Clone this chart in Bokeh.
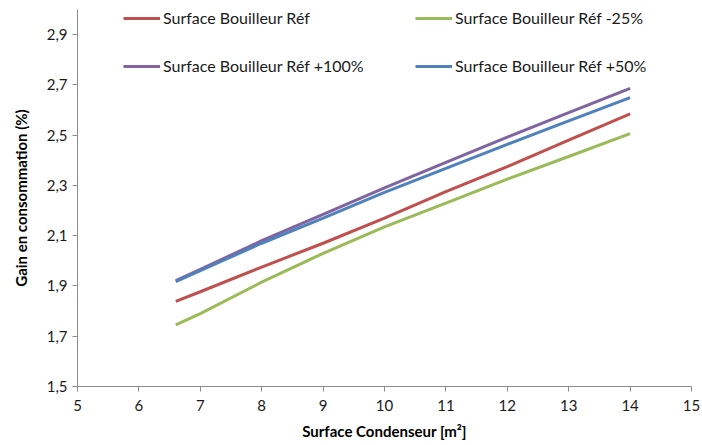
from bokeh.plotting import figure
from bokeh.models import Legend, LegendItem, FixedTicker, Range1d
from bokeh.embed import file_html
from bokeh.resources import INLINE

# Data
x_vals = [6.6, 7, 8, 9, 10, 11, 12, 13, 14]
ref = [1.839, 1.877, 1.975, 2.070, 2.170, 2.275, 2.375, 2.480, 2.585]
minus25 = [1.745, 1.790, 1.915, 2.030, 2.135, 2.230, 2.325, 2.415, 2.506]
plus100 = [1.921, 1.966, 2.080, 2.185, 2.290, 2.392, 2.492, 2.590, 2.686]
plus50 = [1.917, 1.961, 2.070, 2.170, 2.272, 2.368, 2.463, 2.557, 2.649]

series_names = ["Surface Bouilleur Réf", "Surface Bouilleur Réf -25%",
                "Surface Bouilleur Réf +100%", "Surface Bouilleur Réf +50%"]
series_vals = [ref, minus25, plus100, plus50]
colors = ["#C0504D", "#9BBB59", "#8064A2", "#4F81BD"]

y_ticks = [1.5, 1.7, 1.9, 2.1, 2.3, 2.5, 2.7, 2.9]
y_tick_labels = ["1,5", "1,7", "1,9", "2,1", "2,3", "2,5", "2,7", "2,9"]
x_ticks = [5, 6, 7, 8, 9, 10, 11, 12, 13, 14, 15]

FONT = "Lato"
W, H = 700, 445
BL, BR, BT, BB = 77, 9, 9, 59

p = figure(width=W, height=H, output_backend="svg", toolbar_location=None,
           x_range=Range1d(5, 15), y_range=Range1d(1.5, 3.0),
           min_border_left=BL, min_border_right=BR, min_border_top=BT,
           min_border_bottom=BB)
p.outline_line_color = None
p.xgrid.visible = False
p.ygrid.visible = False
p.background_fill_color = "white"
p.border_fill_color = "white"

renderers = []
for vals, c in zip(series_vals, colors):
    r = p.line(x_vals, vals, line_color=c, line_width=3)
    renderers.append(r)

# Axes styling
for ax in (p.xaxis[0], p.yaxis[0]):
    ax.axis_line_color = "#8C8C8C"
    ax.major_tick_line_color = "#8C8C8C"
    ax.minor_tick_line_color = None
    ax.major_tick_in = 0
    ax.major_tick_out = 5
    ax.major_label_text_font = FONT
    ax.major_label_text_font_size = "15px"
    ax.major_label_text_color = "#1a1a1a"
    ax.axis_label_text_font = FONT
    ax.axis_label_text_font_style = "bold"
    ax.axis_label_text_font_size = "15px"
    ax.axis_label_text_color = "#000000"

p.yaxis[0].ticker = FixedTicker(ticks=y_ticks)
p.yaxis[0].major_label_overrides = {t: l for t, l in zip(y_ticks, y_tick_labels)}
p.yaxis[0].major_label_standoff = 5
p.yaxis[0].axis_label = "Gain en consommation (%)"
p.yaxis[0].axis_label_standoff = 14

p.xaxis[0].ticker = FixedTicker(ticks=x_ticks)
p.xaxis[0].major_label_standoff = 8
p.xaxis[0].axis_label = "Surface Condenseur [m²]"
p.xaxis[0].axis_label_standoff = 8

# Legends: 2x2 grid, placed individually
frame_h = H - BT - BB
positions = [(46, frame_h - 18), (338, frame_h - 18), (46, frame_h - 66), (338, frame_h - 66)]
for name, r, pos in zip(series_names, renderers, positions):
    lg = Legend(items=[LegendItem(label=name, renderers=[r])], location=pos,
                padding=0, margin=0, spacing=0, border_line_color=None,
                background_fill_alpha=0, glyph_width=37, glyph_height=18,
                label_height=18, label_standoff=3,
                label_text_font=FONT, label_text_font_size="16px",
                label_text_color="#1a1a1a")
    p.add_layout(lg, "center")

open("out.html", "w").write(file_html(p, INLINE))
